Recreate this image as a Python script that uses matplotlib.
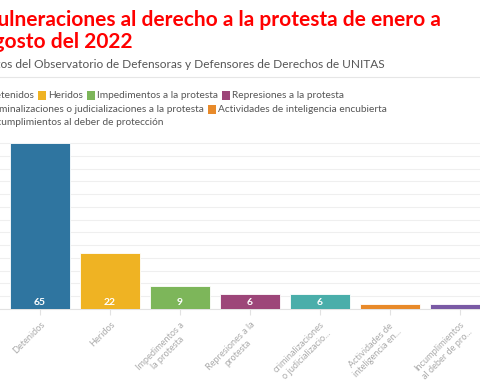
import matplotlib.pyplot as plt
from matplotlib.patches import Rectangle

plt.rcParams['font.family'] = ['Lato', 'DejaVu Sans']

# --- DATA ---
categories: list[str] = [
    "Detenidos",
    "Heridos",
    "Impedimentos a la protesta",
    "Represiones a la protesta",
    "criminalizaciones o judicializaciones a la protesta",
    "Actividades de inteligencia encubierta",
    "Incumplimientos al deber de protección",
]
tick_labels: list[str] = [
    "Detenidos",
    "Heridos",
    "Impedimentos a\nla protesta",
    "Represiones a la\nprotesta",
    "criminalizaciones\no judicializacio...",
    "Actividades de\ninteligencia en...",
    "Incumplimientos\nal deber de pro...",
]
values: list[int] = [65, 22, 9, 6, 6, 2, 2]
colors: list[str] = ["#2f75a0", "#efb323", "#7db65a", "#9d4679",
                     "#4aaeaa", "#e88a2a", "#7a5aa5"]

W, H = 480, 384
fig = plt.figure(figsize=(W / 100, H / 100), dpi=100)

# axes placed so that the chart runs off both sides like the reference
ax = fig.add_axes([0, (H - 309) / H, 1, (309 - 140.5) / H])
xs = list(range(len(values)))
ax.bar(xs, values, width=0.85, color=colors, edgecolor="white", linewidth=0.6, zorder=3)
ax.set_xlim(-40 / 70, (W - 40) / 70)
ax.set_ylim(0, 66)
ax.set_yticks(range(0, 66, 5))
ax.yaxis.grid(True, color="#efefef", linewidth=0.8, zorder=0)
ax.tick_params(axis="y", left=False, labelleft=False)
for s in ["top", "right", "left"]:
    ax.spines[s].set_visible(False)
ax.spines["bottom"].set_color("#e2e2e2")
ax.set_xticks(xs)
ax.set_xticklabels(tick_labels, rotation=45, ha="right", rotation_mode="anchor",
                   fontsize=6.6, color="#aaaaaa", multialignment="center")
ax.tick_params(axis="x", length=4, color="#e2e2e2", pad=4)

for x, v in zip(xs, values):
    if v >= 5:
        ax.text(x, 0.8, str(v), ha="center", va="bottom", color="white",
                fontsize=7.5, fontweight="bold", zorder=4)

# --- TITLES ---
fig.text(-17 / W, 1 - 10 / H, "Vulneraciones al derecho a la protesta de enero a\nagosto del 2022",
         color="#ff0000", fontsize=15, fontweight="bold", va="top", ha="left", linespacing=1.1)
fig.text(-19 / W, 1 - 64 / H, "Datos del Observatorio de Defensoras y Defensores de Derechos de UNITAS",
         color="#555555", fontsize=8.6, va="center", ha="left")
fig.add_artist(plt.Line2D([0, 1], [1 - 77 / H, 1 - 77 / H], color="#e6e6e6", linewidth=0.8))

# --- LEGEND (wrapped rows, laid out by measured text width) ---
fig.canvas.draw()
renderer = fig.canvas.get_renderer()
rows = [[0, 1, 2, 3], [4, 5], [6]]
row_y = [95.5, 109.5, 122.5]
sq = 8
for row, yc in zip(rows, row_y):
    x = -22.0
    for i in row:
        fig.add_artist(Rectangle(((x) / W, 1 - (yc + sq / 2) / H), sq / W, sq / H,
                                 facecolor=colors[i], edgecolor="none", transform=fig.transFigure))
        x += sq + 2.5
        t = fig.text(x / W, 1 - yc / H, categories[i], fontsize=7.3, color="#555555",
                     va="center", ha="left")
        x += t.get_window_extent(renderer).width + 3.5

fig.savefig("out.png", dpi=100)
